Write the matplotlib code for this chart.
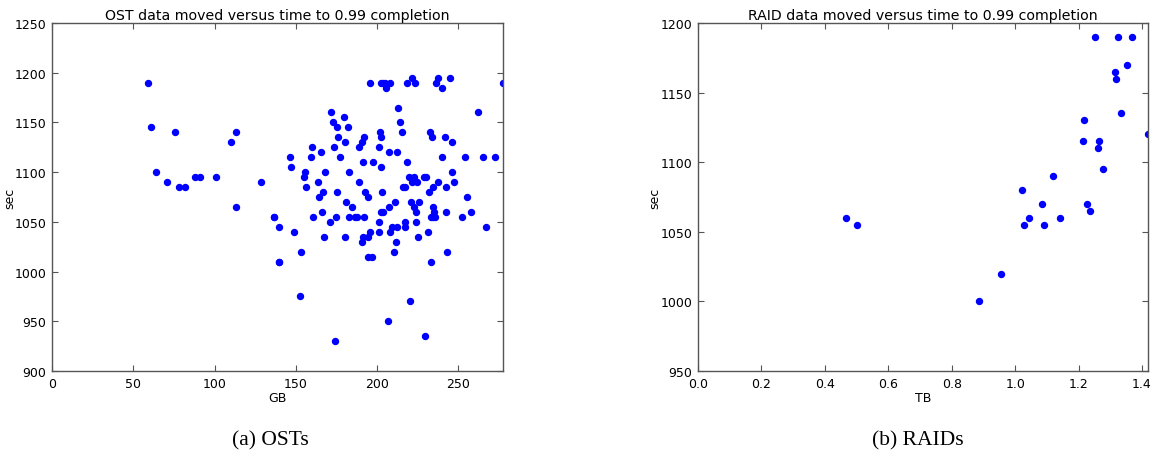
import matplotlib
matplotlib.use("Agg")
import matplotlib.pyplot as plt
from matplotlib.ticker import MultipleLocator, FormatStrFormatter

# OST: data moved (GB) vs time (sec)
ost_gb = [
    58.8, 60.9, 64, 70.7, 75.6, 78.1, 82, 88.2, 91, 100.7, 109.9, 112.9, 113,
    128.3, 136.3, 136.5, 139.4, 139.8, 139.4, 146.4, 146.8, 148.8, 152.5, 153,
    155.2, 155.8, 156, 159.3, 159.7, 160.5, 163.8, 164.4, 165.2, 166.2, 166.7,
    167.5, 167.9, 170.8, 171.8, 172.8, 173.6, 173.8, 174.5, 175.1, 175.3, 175.7,
    176.9, 179.8, 180.4, 180.4, 181, 182.2, 182.5, 182.9, 184.7, 186.5, 187.6,
    189, 189, 190.9, 190.9, 191.1, 191.5, 191.7, 192.1, 192.3, 194.1, 194.1,
    194.1, 195.8, 195.8, 197, 197.2, 200.9, 201.3, 201.3, 201.7, 202.3, 202.3,
    202.5, 202.5, 202.8, 203.8, 203.8, 205, 205.2, 206.6, 207.3, 207.5, 208,
    208, 209.3, 210.5, 211, 211.4, 212, 212.4, 213, 214.2, 215.5, 216, 216.9,
    217.1, 217.3, 218.1, 218.3, 219.6, 220.2, 220.6, 221.2, 221.6, 222.6,
    222.8, 223.5, 223.7, 224, 224.5, 225, 225.5, 229, 229.6, 229.8, 231,
    232, 232.5, 233.1, 233.1, 233.9, 234.1, 234.3, 234.3, 235.1, 235.5,
    236.2, 237.6, 237.6, 239.9, 240, 241.7, 242.1, 242.3, 243.1, 245, 245.8,
    246.2, 247, 252.2, 253.8, 255.2, 257.7, 261.8, 265.3, 267.1, 272.6, 277.4,
]
ost_sec = [
    1190, 1145, 1100, 1090, 1140, 1085, 1085, 1095, 1095, 1095, 1130, 1140, 1065,
    1090, 1055, 1055, 1045, 1010, 1010, 1115, 1105, 1040, 975, 1020,
    1095, 1100, 1085, 1115, 1125, 1055, 1090, 1075, 1120, 1060, 1080,
    1035, 1100, 1050, 1160, 1150, 1125, 930, 1055, 1080, 1145, 1135,
    1115, 1155, 1130, 1035, 1070, 1145, 1100, 1055, 1065, 1055, 1055,
    1125, 1090, 1130, 1030, 1035, 1110, 1055, 1135, 1080, 1075, 1035,
    1015, 1190, 1040, 1015, 1110, 1050, 1125, 1040, 1140, 1190, 1060,
    1135, 1105, 1080, 1190, 1060, 1190, 1185, 950, 1120, 1065, 1190,
    1040, 1045, 1020, 1070, 1030, 1120, 1045, 1165, 1150, 1140, 1085, 1050,
    1085, 1045, 1110, 1190, 1095, 970, 1070, 1090, 1195, 1095,
    1065, 1190, 1060, 1050, 1090, 1035, 1070, 1095, 935, 1095, 1040,
    1080, 1140, 1055, 1010, 1135, 1085, 1065, 1055, 1060, 1055,
    1190, 1195, 1090, 1185, 1115, 1135, 1060, 1085, 1020, 1195, 1100,
    1130, 1090, 1055, 1115, 1075, 1060, 1160, 1115, 1045, 1115, 1190,
]

# RAID: data moved (TB) vs time (sec)
raid_tb = [
    0.467, 0.502, 0.886, 0.956, 1.022, 1.027, 1.045, 1.084, 1.090, 1.121,
    1.142, 1.213, 1.216, 1.226, 1.235, 1.252, 1.262, 1.266, 1.277, 1.315,
    1.319, 1.323, 1.335, 1.354, 1.367, 1.419,
]
raid_sec = [
    1060, 1055, 1000, 1020, 1080, 1055, 1060, 1070, 1055, 1090,
    1060, 1115, 1130, 1070, 1065, 1190, 1110, 1115, 1095, 1165,
    1160, 1190, 1135, 1170, 1190, 1120,
]

fig = plt.figure(figsize=(11.51, 4.56), dpi=100)
ax1 = fig.add_axes([52 / 1151, 1 - 372 / 456, 451 / 1151, 348 / 456])
ax2 = fig.add_axes([698 / 1151, 1 - 372 / 456, 450 / 1151, 348 / 456])


def style(ax):
    ax.tick_params(direction="in", top=True, right=True, labelsize=9,
                   length=4, color="#555555", pad=4)
    for s in ax.spines.values():
        s.set_color("#555555")
        s.set_linewidth(1.0)


ax1.plot(ost_gb, ost_sec, "o", color="blue", mec="blue", ms=4.3)
ax1.set_xlim(0, max(ost_gb))
ax1.set_ylim(900, 1250)
ax1.xaxis.set_major_locator(MultipleLocator(50))
ax1.yaxis.set_major_locator(MultipleLocator(50))
ax1.set_title("OST data moved versus time to 0.99 completion", fontsize=10.2, pad=3)
ax1.set_xlabel("GB", fontsize=9, labelpad=1)
ax1.set_ylabel("sec", fontsize=9)
ax1.yaxis.set_label_coords(-0.080, 0.5)
style(ax1)

ax2.plot(raid_tb, raid_sec, "o", color="blue", mec="blue", ms=4.3)
ax2.set_xlim(0, max(raid_tb))
ax2.set_ylim(950, 1200)
ax2.xaxis.set_major_locator(MultipleLocator(0.2))
ax2.xaxis.set_major_formatter(FormatStrFormatter("%.1f"))
ax2.yaxis.set_major_locator(MultipleLocator(50))
ax2.set_title("RAID data moved versus time to 0.99 completion", fontsize=10.2, pad=3)
ax2.set_xlabel("TB", fontsize=9, labelpad=1)
ax2.set_ylabel("sec", fontsize=9)
ax2.yaxis.set_label_coords(-0.082, 0.5)
style(ax2)

fig.text(270 / 1151, 1 - 441 / 456, "(a) OSTs", ha="center", va="center",
         family="Liberation Serif", fontsize=15.5)
fig.text(918 / 1151, 1 - 441 / 456, "(b) RAIDs", ha="center", va="center",
         family="Liberation Serif", fontsize=15.5)

fig.savefig("out.png", dpi=100)
